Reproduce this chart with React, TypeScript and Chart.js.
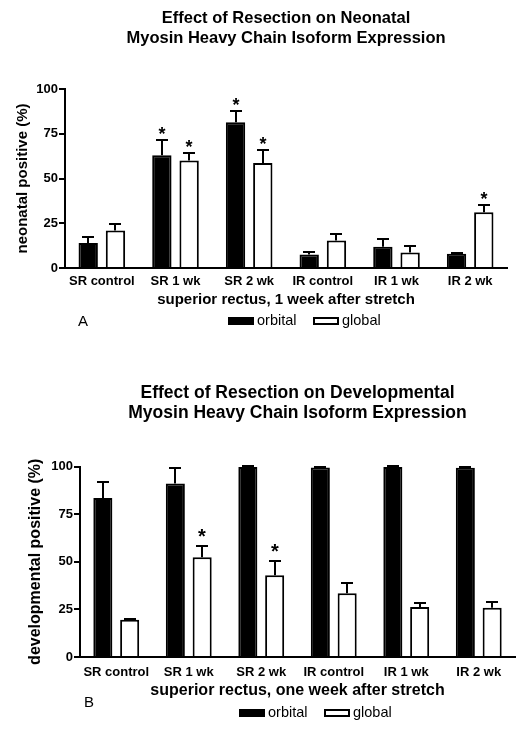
import React, { useEffect, useRef } from 'react';
import { Chart, registerables } from 'chart.js';

Chart.register(...registerables);

const FONT = "'Liberation Sans', Arial, Helvetica, sans-serif";

// ---------- data ----------
const categories = ['SR control', 'SR 1 wk', 'SR 2 wk', 'IR control', 'IR 1 wk', 'IR 2 wk'];
const seriesNames = ['orbital', 'global'];
const yTickValues = [0, 25, 50, 75, 100];

// Panel A: neonatal MyHC
const neonatalOrbital = [14, 63, 81.4, 7.6, 11.9, 8.0];
const neonatalOrbitalErr = [3.5, 8.7, 6.3, 1.3, 4.1, 0.6];
const neonatalOrbitalSig = [false, true, true, false, false, false];
const neonatalGlobal = [21, 60.1, 58.7, 15.4, 8.6, 31.1];
const neonatalGlobalErr = [3.6, 4.3, 7.0, 3.8, 3.7, 4.3];
const neonatalGlobalSig = [false, true, true, false, false, true];

// Panel B: developmental MyHC
const developmentalOrbital = [83.4, 91.1, 99.8, 99.5, 99.8, 99.4];
const developmentalOrbitalErr = [8.4, 8.0, 0.3, 0.3, 0.3, 0.3];
const developmentalOrbitalSig = [false, false, false, false, false, false];
const developmentalGlobal = [19.6, 52.3, 42.9, 33.5, 26.2, 25.8];
const developmentalGlobalErr = [0.3, 6.0, 7.4, 5.5, 2.2, 3.2];
const developmentalGlobalSig = [false, true, true, false, false, false];

type PanelCfg = {
  title: string[];
  titleSize: number;
  titleLH: number;
  titlePadTop: number;
  titlePadBottom: number;
  yTitle: string;
  yTitleSize: number;
  yTitlePad: number;
  yWidth: number;
  xTitle: string;
  xTitleSize: number;
  xTitlePadBottom: number;
  xHeight: number;
  xTickPad: number;
  padRight: number;
  padBottom: number;
  starSize: number;
  starGap: number;
  letter: string;
  letterDx: number;
  letterDy: number;
  letterSize: number;
  legendDy: number;
  legendShift: number;
  legendSize: number;
  orbital: number[];
  orbitalErr: number[];
  orbitalSig: boolean[];
  global: number[];
  globalErr: number[];
  globalSig: boolean[];
};

function extrasPlugin(p: PanelCfg) {
  return {
    id: 'panelExtras',
    afterDatasetsDraw(chart: any) {
      const ctx = chart.ctx as CanvasRenderingContext2D;
      const ys = chart.scales.y;
      chart.data.datasets.forEach((ds: any, di: number) => {
        const meta = chart.getDatasetMeta(di);
        meta.data.forEach((bar: any, i: number) => {
          const v = ds.data[i];
          const e = ds.errors[i];
          const x = Math.round(bar.x);
          const yTop = ys.getPixelForValue(v);
          const yErr = Math.round(ys.getPixelForValue(v + e));
          ctx.save();
          ctx.strokeStyle = '#000';
          ctx.lineWidth = 2;
          ctx.beginPath();
          ctx.moveTo(x, yTop);
          ctx.lineTo(x, yErr);
          ctx.moveTo(x - 6, yErr);
          ctx.lineTo(x + 6, yErr);
          ctx.stroke();
          if (ds.sig[i]) {
            ctx.font = `bold ${p.starSize}px ${FONT}`;
            ctx.fillStyle = '#000';
            ctx.textAlign = 'center';
            ctx.textBaseline = 'alphabetic';
            const m = ctx.measureText('*');
            const half = (m.actualBoundingBoxAscent - m.actualBoundingBoxDescent) / 2;
            const cy = yErr - p.starGap;
            ctx.fillText('*', x, cy + half);
          }
          ctx.restore();
        });
      });
    },
    afterDraw(chart: any) {
      const ctx = chart.ctx as CanvasRenderingContext2D;
      const ca = chart.chartArea;
      ctx.save();
      // panel letter
      ctx.fillStyle = '#000';
      ctx.font = `${p.letterSize}px ${FONT}`;
      ctx.textAlign = 'left';
      ctx.textBaseline = 'middle';
      ctx.fillText(p.letter, ca.left + p.letterDx, ca.bottom + p.letterDy);
      // legend
      ctx.font = `${p.legendSize}px ${FONT}`;
      const boxW = 26, boxH = 8, gap = 3, itemGap = 17;
      const items = chart.data.datasets.map((ds: any) => ({
        label: ds.label as string,
        fill: ds.backgroundColor as string,
        w: ctx.measureText(ds.label).width,
      }));
      const total = items.reduce((s: number, it: any) => s + boxW + gap + it.w, 0) + itemGap * (items.length - 1);
      let x = (ca.left + ca.right) / 2 + p.legendShift - total / 2;
      const cy = ca.bottom + p.legendDy;
      items.forEach((it: any) => {
        const bx = Math.round(x);
        const by = Math.round(cy - boxH / 2);
        ctx.fillStyle = '#000';
        ctx.fillRect(bx, by, boxW, boxH);
        if (it.fill !== '#000000') {
          ctx.fillStyle = it.fill;
          ctx.fillRect(bx + 2, by + 2, boxW - 4, boxH - 4);
        }
        ctx.fillStyle = '#000';
        ctx.fillText(it.label, bx + boxW + gap, cy);
        x += boxW + gap + it.w + itemGap;
      });
      ctx.restore();
    },
  };
}

function buildConfig(p: PanelCfg): any {
  return {
    type: 'bar',
    data: {
      labels: categories,
      datasets: [
        {
          label: seriesNames[0],
          data: p.orbital,
          errors: p.orbitalErr,
          sig: p.orbitalSig,
          backgroundColor: '#000000',
          borderColor: '#000000',
          borderWidth: 2,
          borderSkipped: 'start',
          categoryPercentage: 0.74,
          barPercentage: 0.71,
        },
        {
          label: seriesNames[1],
          data: p.global,
          errors: p.globalErr,
          sig: p.globalSig,
          backgroundColor: '#ffffff',
          borderColor: '#000000',
          borderWidth: 2,
          borderSkipped: 'start',
          categoryPercentage: 0.74,
          barPercentage: 0.71,
        },
      ],
    },
    options: {
      responsive: false,
      devicePixelRatio: 1,
      animation: false,
      events: [],
      color: '#000',
      font: { family: FONT },
      layout: { padding: { left: 0, right: p.padRight, top: 0, bottom: p.padBottom } },
      plugins: {
        legend: { display: false },
        tooltip: { enabled: false },
        title: {
          display: true,
          text: p.title,
          color: '#000',
          fullSize: false,
          font: { family: FONT, size: p.titleSize, weight: 'bold', lineHeight: p.titleLH },
          padding: { top: p.titlePadTop, bottom: p.titlePadBottom },
        },
      },
      scales: {
        x: {
          type: 'category',
          offset: true,
          grid: { display: false, drawTicks: false },
          border: { display: true, color: '#000', width: 2 },
          ticks: {
            color: '#000',
            padding: p.xTickPad,
            maxRotation: 0,
            autoSkip: false,
            font: { family: FONT, size: 13, weight: 'bold', lineHeight: 1.2 },
          },
          title: {
            display: true,
            text: p.xTitle,
            color: '#000',
            font: { family: FONT, size: p.xTitleSize, weight: 'bold', lineHeight: 1.2 },
            padding: { top: 0, bottom: p.xTitlePadBottom },
          },
          afterFit: (s: any) => {
            s.height = p.xHeight;
          },
        },
        y: {
          type: 'linear',
          min: 0,
          max: 100,
          afterBuildTicks: (s: any) => {
            s.ticks = yTickValues.map((v) => ({ value: v }));
          },
          grid: {
            display: true,
            drawOnChartArea: false,
            drawTicks: true,
            tickLength: 6,
            tickWidth: 2,
            tickColor: '#000',
            color: '#000',
            lineWidth: 2,
          },
          border: { display: true, color: '#000', width: 2 },
          ticks: {
            color: '#000',
            padding: 1,
            font: { family: FONT, size: 13, weight: 'bold', lineHeight: 1.2 },
          },
          title: {
            display: true,
            text: p.yTitle,
            color: '#000',
            font: { family: FONT, size: p.yTitleSize, weight: 'bold', lineHeight: 1.2 },
            padding: { top: p.yTitlePad, bottom: 0 },
          },
          afterFit: (s: any) => {
            s.width = p.yWidth;
          },
        },
      },
    },
    plugins: [extrasPlugin(p)],
  };
}

const panelA: PanelCfg = {
  title: ['Effect of Resection on Neonatal', 'Myosin Heavy Chain Isoform Expression'],
  titleSize: 16.5,
  titleLH: 1.25,
  titlePadTop: 8,
  titlePadBottom: 39.75,
  yTitle: 'neonatal positive (%)',
  yTitleSize: 15,
  yTitlePad: 14,
  yWidth: 65,
  xTitle: 'superior rectus, 1 week after stretch',
  xTitleSize: 15,
  xTitlePadBottom: 3,
  xHeight: 44,
  xTickPad: 6,
  padRight: 21,
  padBottom: 28,
  starSize: 18,
  starGap: 10,
  letter: 'A',
  letterDx: 13,
  letterDy: 54,
  letterSize: 15,
  legendDy: 53,
  legendShift: 18.5,
  legendSize: 14.5,
  orbital: neonatalOrbital,
  orbitalErr: neonatalOrbitalErr,
  orbitalSig: neonatalOrbitalSig,
  global: neonatalGlobal,
  globalErr: neonatalGlobalErr,
  globalSig: neonatalGlobalSig,
};

const panelB: PanelCfg = {
  title: ['Effect of Resection on Developmental', 'Myosin Heavy Chain Isoform Expression'],
  titleSize: 17.5,
  titleLH: 1.1,
  titlePadTop: 44,
  titlePadBottom: 44,
  yTitle: 'developmental positive (%)',
  yTitleSize: 16,
  yTitlePad: 26,
  yWidth: 80,
  xTitle: 'superior rectus, one week after stretch',
  xTitleSize: 16,
  xTitlePadBottom: 3,
  xHeight: 46,
  xTickPad: 8,
  padRight: 13,
  padBottom: 31,
  starSize: 20,
  starGap: 13,
  letter: 'B',
  letterDx: 4,
  letterDy: 45.7,
  letterSize: 15,
  legendDy: 56,
  legendShift: 18,
  legendSize: 14.5,
  orbital: developmentalOrbital,
  orbitalErr: developmentalOrbitalErr,
  orbitalSig: developmentalOrbitalSig,
  global: developmentalGlobal,
  globalErr: developmentalGlobalErr,
  globalSig: developmentalGlobalSig,
};

function Panel({ cfg, top, height }: { cfg: PanelCfg; top: number; height: number }) {
  const ref = useRef<HTMLCanvasElement>(null);
  useEffect(() => {
    const chart = new Chart(ref.current as HTMLCanvasElement, buildConfig(cfg));
    return () => chart.destroy();
  }, [cfg]);
  return (
    <canvas
      ref={ref}
      width={528}
      height={height}
      style={{ position: 'absolute', left: 0, top, width: 528, height, display: 'block' }}
    />
  );
}

export default function App() {
  return (
    <div style={{ position: 'absolute', left: 0, top: 0, width: 528, height: 734, background: '#fff', overflow: 'hidden' }}>
      <Panel cfg={panelA} top={0} height={340} />
      <Panel cfg={panelB} top={340} height={394} />
    </div>
  );
}
